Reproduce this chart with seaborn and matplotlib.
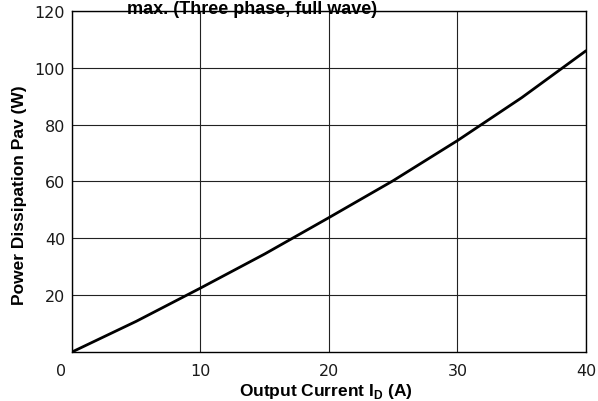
import matplotlib
matplotlib.use("Agg")
import matplotlib.pyplot as plt
import matplotlib.transforms as mtrans
import seaborn as sns
import pandas as pd

# datos
corriente = [0, 5, 10, 15, 20, 25, 30, 35, 40]
potencia = [0, 10.8, 22.5, 34.5, 47.3, 60.3, 74.4, 89.5, 106]
xticks = [0, 10, 20, 30, 40]
yticks = [20, 40, 60, 80, 100, 120]

df = pd.DataFrame({"I": corriente, "P": potencia})

sns.set_style("white")
plt.rcParams["font.family"] = ["DejaVu Sans"]

fig = plt.figure(figsize=(5.98, 4.02), dpi=100)
ax = fig.add_axes([0.1204, 0.1219, 0.8595, 0.8483])

sns.lineplot(data=df, x="I", y="P", ax=ax, color="black", linewidth=2.0)

ax.set_xlim(0, 40)
ax.set_ylim(0, 120)
ax.set_xticks(xticks)
ax.set_yticks(yticks)
ax.tick_params(length=0, labelsize=11.5, colors="#1a1a1a")
ax.tick_params(axis="x", pad=8)
ax.tick_params(axis="y", pad=5)
ax.grid(True, color="#222222", linewidth=0.8)
for s in ax.spines.values():
    s.set_color("black")
    s.set_linewidth(1.0)

# desplazar la etiqueta 0 como en el original
etiquetas = ax.get_xticklabels()
etiquetas[0].set_transform(etiquetas[0].get_transform() +
                           mtrans.ScaledTranslation(-11 / 100, 0, fig.dpi_scale_trans))

fuente = {"family": "Liberation Sans", "weight": "bold", "size": 12.5, "color": "black"}
ax.set_xlabel("Output Current I$_{\\mathregular{D}}$ (A)", fontdict=fuente)
ax.set_ylabel("Power Dissipation Pav (W)", fontdict=fuente)
ax.xaxis.set_label_coords(0.494, -0.085)
ax.yaxis.set_label_coords(-0.088, 0.463)

fig.text(0.421, 0.966, "max. (Three phase, full wave)", family="Liberation Sans",
         fontsize=13, fontweight="bold", color="black", ha="center", va="baseline")

fig.savefig("out.png", dpi=100)
